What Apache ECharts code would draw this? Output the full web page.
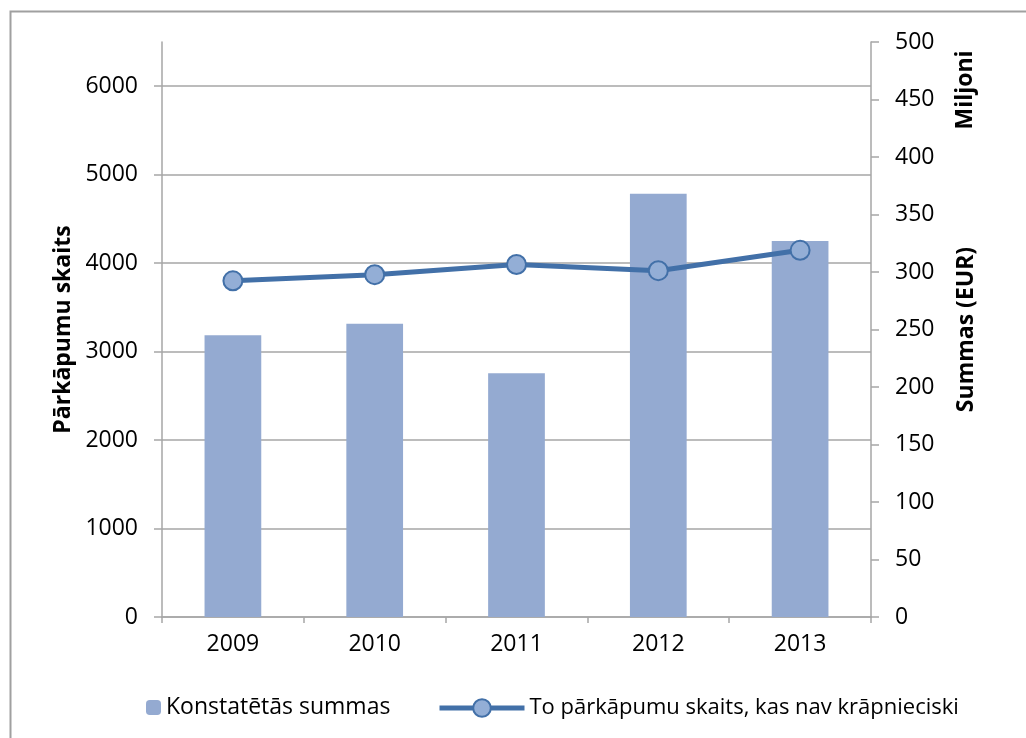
<!DOCTYPE html>
<html>
<head>
<meta charset="utf-8">
<script src="https://cdn.jsdelivr.net/npm/echarts@6/dist/echarts.min.js"></script>
<style>
  html, body { margin: 0; padding: 0; background: #fff; }
  #chart { width: 1026px; height: 738px; }
</style>
</head>
<body>
<div id="chart"></div>
<script>
const years = ['2009', '2010', '2011', '2012', '2013']
// Konstatētās summas, miljoni EUR (labā ass)
const summas = [245, 255, 212, 368, 327]
// To pārkāpumu skaits, kas nav krāpnieciski (kreisā ass)
const skaits = [3800, 3870, 3985, 3915, 4145]
const leftTicks = [0, 1000, 2000, 3000, 4000, 5000, 6000]

const font = 'Open Sans'
const gray = '#A6A6A6'
const fs = 23

const chart = echarts.init(document.getElementById('chart'))

const option = {
  animation: false,
  textStyle: { fontFamily: font, color: '#000' },
  grid: {
    left: 162,
    right: 155,
    top: 42,
    bottom: 121,
    outerBoundsMode: 'none'
  },
  legend: [
    {
      data: ['Konstatētās summas'],
      left: 141,
      top: 691,
      itemWidth: 15,
      itemHeight: 15,
      textStyle: { fontSize: fs, fontFamily: font, color: '#000' }
    },
    {
      data: ['To pārkāpumu skaits, kas nav krāpnieciski'],
      left: 432,
      top: 692,
      itemWidth: 85,
      itemHeight: 22,
      lineStyle: { width: 5 },
      textStyle: { fontSize: 22, fontFamily: font, color: '#000' }
    }
  ],
  xAxis: {
    type: 'category',
    data: years,
    axisLine: { lineStyle: { color: gray, width: 1.5 } },
    axisTick: { show: true, length: 6, lineStyle: { color: gray, width: 1.5 } },
    axisLabel: { fontSize: fs, margin: 16, color: '#000' }
  },
  yAxis: [
    {
      type: 'value',
      min: 0,
      max: 6500,
      interval: 1000,
      position: 'left',
      name: 'Pārkāpumu skaits',
      nameLocation: 'middle',
      nameGap: 87,
      nameRotate: 90,
      nameMoveOverlap: false,
      nameTextStyle: { fontSize: fs, fontWeight: 'bold', color: '#000' },
      axisLine: { show: true, lineStyle: { color: gray, width: 1.5 } },
      axisTick: { show: true, length: 8, customValues: leftTicks, lineStyle: { color: gray, width: 1.5 } },
      axisLabel: {
        fontSize: fs, margin: 24, color: '#000', customValues: leftTicks,
        formatter: v => String(v)
      },
      splitLine: { show: true, lineStyle: { color: gray, width: 1.5 } }
    },
    {
      type: 'value',
      min: 0,
      max: 500,
      interval: 50,
      position: 'right',
      name: 'Summas (EUR)',
      nameLocation: 'middle',
      nameGap: 84,
      nameRotate: 90,
      nameMoveOverlap: false,
      nameTextStyle: { fontSize: fs, fontWeight: 'bold', color: '#000' },
      axisLine: { show: true, lineStyle: { color: gray, width: 1.5 } },
      axisTick: { show: true, length: 8, lineStyle: { color: gray, width: 1.5 } },
      axisLabel: { fontSize: fs, margin: 24, color: '#000' },
      splitLine: { show: false }
    }
  ],
  graphic: [
    {
      type: 'rect',
      shape: { x: 10.5, y: 11.5, width: 1040, height: 760 },
      style: { fill: null, stroke: '#A0A0A0', lineWidth: 2 },
      silent: true
    },
    {
      type: 'text',
      x: 965,
      y: 90,
      rotation: Math.PI / 2,
      style: {
        text: 'Miljoni',
        fontSize: fs,
        fontWeight: 'bold',
        fontFamily: font,
        fill: '#000',
        align: 'center',
        verticalAlign: 'middle'
      }
    }
  ],
  series: [
    {
      name: 'Konstatētās summas',
      type: 'bar',
      yAxisIndex: 1,
      data: summas,
      barWidth: '40%',
      itemStyle: { color: '#94AAD1' }
    },
    {
      name: 'To pārkāpumu skaits, kas nav krāpnieciski',
      type: 'line',
      yAxisIndex: 0,
      data: skaits,
      symbol: 'circle',
      symbolSize: 19,
      z: 5,
      lineStyle: { color: '#4270A8', width: 5 },
      itemStyle: { color: '#93AED6', borderColor: '#4270A8', borderWidth: 2 }
    }
  ]
}

chart.setOption(option)
</script>
</body>
</html>
